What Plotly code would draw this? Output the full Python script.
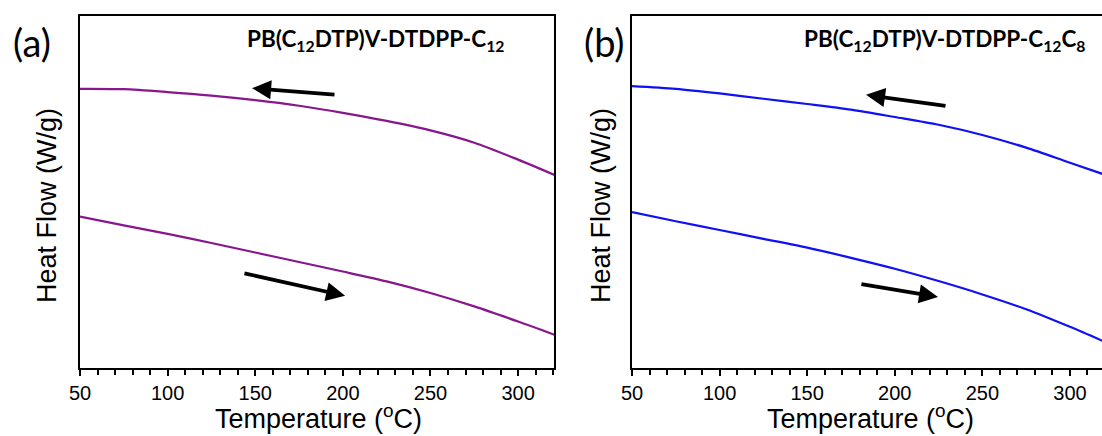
import plotly.graph_objects as go

# DSC traces, heat flow in arbitrary units (no y scale shown)
temp_a_cool = [50, 75, 100, 125, 150, 175, 200, 225, 250, 275, 300, 321]
flow_a_cool = [7.93, 7.92, 7.84, 7.74, 7.61, 7.45, 7.25, 7.02, 6.75, 6.40, 5.92, 5.48]
temp_a_heat = [50, 75, 100, 125, 150, 175, 200, 225, 250, 275, 300, 321]
flow_a_heat = [4.30, 4.05, 3.81, 3.55, 3.28, 3.01, 2.74, 2.46, 2.13, 1.75, 1.32, 0.94]

temp_b_cool = [50, 75, 100, 125, 150, 175, 200, 225, 250, 275, 300, 320]
flow_b_cool = [8.01, 7.93, 7.80, 7.65, 7.50, 7.34, 7.13, 6.91, 6.62, 6.26, 5.83, 5.49]
temp_b_heat = [50, 75, 100, 125, 150, 175, 200, 225, 250, 275, 300, 320]
flow_b_heat = [4.43, 4.17, 3.92, 3.67, 3.42, 3.13, 2.82, 2.47, 2.09, 1.67, 1.17, 0.74]

# direction arrows: (tail T, tail flow, tip T, tip flow)
arrows_a = [(196.1, 7.76, 148.2, 7.95), (143.0, 2.70, 201.3, 2.05)]
arrows_b = [(229.8, 7.44, 183.6, 7.76), (180.1, 2.39, 224.7, 2.02)]

tick_vals = [50, 100, 150, 200, 250, 300]
tick_text = ["50", "100", "150", "200", "250", "300"]

W, H = 1102, 436
PURPLE = "#88168C"
BLUE = "#1010F5"
FONT = "Liberation Sans, Arial, sans-serif"
TFONT = "Lato, Open Sans, sans-serif"

fig = go.Figure()
line_a = dict(color=PURPLE, width=2.2, shape="spline", smoothing=0.8)
line_b = dict(color=BLUE, width=2.2, shape="spline", smoothing=0.8)
fig.add_trace(go.Scatter(x=temp_a_cool, y=flow_a_cool, mode="lines", line=line_a, xaxis="x", yaxis="y"))
fig.add_trace(go.Scatter(x=temp_a_heat, y=flow_a_heat, mode="lines", line=line_a, xaxis="x", yaxis="y"))
fig.add_trace(go.Scatter(x=temp_b_cool, y=flow_b_cool, mode="lines", line=line_b, xaxis="x2", yaxis="y2"))
fig.add_trace(go.Scatter(x=temp_b_heat, y=flow_b_heat, mode="lines", line=line_b, xaxis="x2", yaxis="y2"))

ydom = [1 - 368 / H, 1 - 16 / H]
xcommon = dict(
    showline=True, linecolor="black", linewidth=2, mirror=True,
    showgrid=False, zeroline=False, automargin=False,
    tickmode="array", tickvals=tick_vals, ticktext=tick_text,
    ticks="outside", ticklen=6, tickwidth=1.6, tickcolor="black",
    minor=dict(dtick=10, tick0=50, ticks="outside", ticklen=5, tickwidth=1.6, tickcolor="black"),
    tickfont=dict(family=FONT, size=20, color="black"),
)
ycommon = dict(
    showline=True, linecolor="black", linewidth=2, automargin=False,
    showgrid=False, zeroline=False, showticklabels=False, ticks="",
    range=[0, 10], domain=ydom,
)

fig.update_layout(
    width=W, height=H,
    margin=dict(l=0, r=0, t=0, b=0, autoexpand=False),
    paper_bgcolor="white", plot_bgcolor="white",
    showlegend=False,
    xaxis=dict(xcommon, domain=[80 / W, 554 / W], range=[50, 320.5], anchor="y"),
    yaxis=dict(ycommon, mirror=True, anchor="x"),
    xaxis2=dict(xcommon, domain=[632 / W, 1.0], range=[50, 318.3], anchor="y2"),
    yaxis2=dict(ycommon, mirror=False, anchor="x2"),
)

ann = []
for xref, yref, arrs in (("x", "y", arrows_a), ("x2", "y2", arrows_b)):
    for tx, ty, hx, hy in arrs:
        ann.append(dict(x=hx, y=hy, ax=tx, ay=ty, xref=xref, yref=yref, axref=xref, ayref=yref,
                        text="", showarrow=True, arrowhead=2, arrowsize=1.0, arrowwidth=3.8, arrowcolor="black"))

def ptext(x, y, text, size, family=FONT, bold=False, xanchor="center"):
    return dict(x=x / W, y=1 - y / H, xref="paper", yref="paper", text=text, showarrow=False,
                xanchor=xanchor, yanchor="middle",
                font=dict(family=family, size=size, color="black", weight="bold" if bold else "normal"))

ann.append(ptext(318, 417, "Temperature (<sup>o</sup>C)", 27))
ann.append(ptext(870, 417, "Temperature (<sup>o</sup>C)", 27))
ha = ptext(47, 206, "Heat Flow (W/g)", 27); ha["textangle"] = -90; ann.append(ha)
hb = ptext(601, 206, "Heat Flow (W/g)", 27); hb["textangle"] = -90; ann.append(hb)
ann.append(ptext(32, 42, "(a)", 38, family=TFONT))
ann.append(ptext(604, 42, "(b)", 38, family=TFONT))
ann.append(ptext(245, 40, "PB(C<sub>12</sub>DTP)V-DTDPP-C<sub>12</sub>", 22.5, family=TFONT, bold=True, xanchor="left"))
ann.append(ptext(802, 40, "PB(C<sub>12</sub>DTP)V-DTDPP-C<sub>12</sub>C<sub>8</sub>", 22.5, family=TFONT, bold=True, xanchor="left"))
fig.update_layout(annotations=ann)

fig.write_html("out.html")
